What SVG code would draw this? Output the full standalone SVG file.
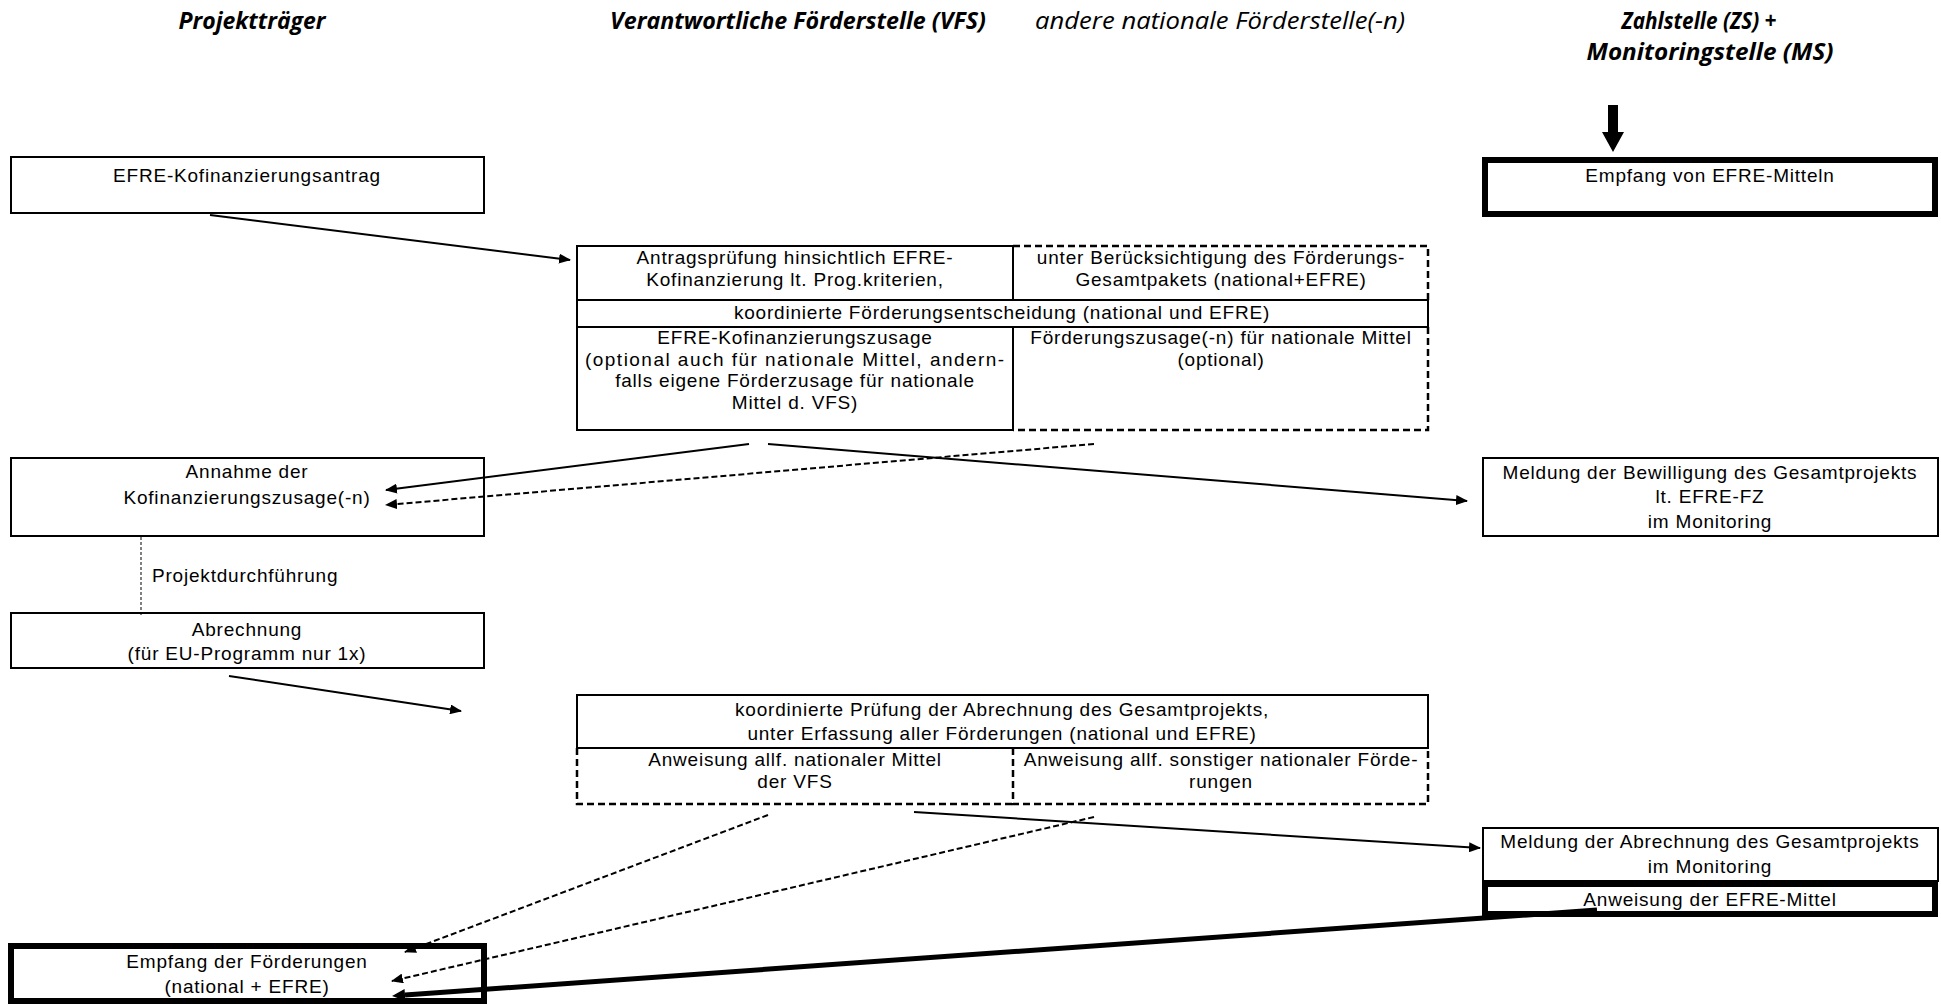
<svg xmlns="http://www.w3.org/2000/svg" width="1941" height="1004" viewBox="0 0 1941 1004">
<defs>
<style>
.title{font-family:"Open Sans","Liberation Sans",sans-serif;font-size:23px;font-style:italic;font-weight:bold;fill:#000;text-anchor:middle}
.title2{font-family:"Open Sans","Liberation Sans",sans-serif;font-size:23px;font-style:italic;fill:#000;text-anchor:middle}
.t{font-family:"Liberation Sans",Arial,sans-serif;font-size:19px;letter-spacing:0.8px;fill:#000;text-anchor:middle}
.tl{font-family:"Liberation Sans",Arial,sans-serif;font-size:19px;letter-spacing:0.8px;fill:#000}
.box{fill:#fff;stroke:#000;stroke-width:2}
.thick{fill:#fff;stroke:#000;stroke-width:6}
.dash{fill:none;stroke:#000;stroke-width:2.5;stroke-dasharray:7 4}
.c{fill:none;stroke:#000;stroke-width:2;marker-end:url(#ah)}
.cd{fill:none;stroke:#000;stroke-width:2;stroke-dasharray:6 3;marker-end:url(#ah)}
.ct{fill:none;stroke:#000;stroke-width:5;marker-end:url(#ahb)}
</style>
<marker id="ah" markerUnits="userSpaceOnUse" markerWidth="12" markerHeight="10" refX="11" refY="5" orient="auto">
<path d="M0,0 L12,5 L0,10 Z" fill="#000"/>
</marker>
<marker id="ahb" markerUnits="userSpaceOnUse" markerWidth="13" markerHeight="12" refX="0" refY="6" orient="auto">
<path d="M0,0 L13,6 L0,12 Z" fill="#000"/>
</marker>
</defs>
<rect width="1941" height="1004" fill="#fff"/>

<g id="titles">
<text class="title" x="252" y="29" textLength="147" lengthAdjust="spacingAndGlyphs">Projektträger</text>
<text class="title" x="798" y="29" textLength="376" lengthAdjust="spacingAndGlyphs">Verantwortliche Förderstelle (VFS)</text>
<text class="title2" x="1220" y="29" textLength="370" lengthAdjust="spacingAndGlyphs">andere nationale Förderstelle(-n)</text>
<text class="title" x="1699" y="29" textLength="155" lengthAdjust="spacingAndGlyphs">Zahlstelle (ZS) +</text>
<text class="title" x="1710" y="60" textLength="247" lengthAdjust="spacingAndGlyphs">Monitoringstelle (MS)</text>
</g>

<g id="antrag">
<rect class="box" x="11" y="157" width="473" height="56"/>
<text class="t" x="247" y="182">EFRE-Kofinanzierungsantrag</text>
</g>

<g id="empfang-efre">
<rect class="thick" x="1485" y="160" width="450" height="54"/>
<text class="t" x="1710" y="182">Empfang von EFRE-Mitteln</text>
</g>

<g id="vfs-pruefung">
<rect class="box" x="577" y="246" width="436" height="54"/>
<text class="t" x="795" y="264">Antragsprüfung hinsichtlich EFRE-</text>
<text class="t" x="795" y="285.5">Kofinanzierung lt. Prog.kriterien,</text>
</g>

<g id="andere-beruecksichtigung">
<path class="dash" d="M1013,246 H1428 V300"/>
<text class="t" x="1221" y="264">unter Berücksichtigung des Förderungs-</text>
<text class="t" x="1221" y="285.5">Gesamtpakets (national+EFRE)</text>
</g>

<g id="entscheidung">
<rect class="box" x="577" y="300" width="851" height="27"/>
<text class="t" x="1002" y="319">koordinierte Förderungsentscheidung (national und EFRE)</text>
</g>

<g id="vfs-zusage">
<rect class="box" x="577" y="327" width="436" height="103"/>
<text class="t" x="795" y="344">EFRE-Kofinanzierungszusage</text>
<text class="t" x="795" y="365.5" textLength="420" lengthAdjust="spacing">(optional auch für nationale Mittel, andern-</text>
<text class="t" x="795" y="387">falls eigene Förderzusage für nationale</text>
<text class="t" x="795" y="408.5">Mittel d. VFS)</text>
</g>

<g id="andere-zusage">
<path class="dash" d="M1428,327 V430 H1013"/>
<text class="t" x="1221" y="344">Förderungszusage(-n) für nationale Mittel</text>
<text class="t" x="1221" y="365.5">(optional)</text>
</g>

<g id="annahme">
<rect class="box" x="11" y="458" width="473" height="78"/>
<text class="t" x="247" y="478">Annahme der</text>
<text class="t" x="247" y="504">Kofinanzierungszusage(-n)</text>
</g>

<g id="meldung-bewilligung">
<rect class="box" x="1483" y="458" width="455" height="78"/>
<text class="t" x="1710" y="479">Meldung der Bewilligung des Gesamtprojekts</text>
<text class="t" x="1710" y="503">lt. EFRE-FZ</text>
<text class="t" x="1710" y="528">im Monitoring</text>
</g>

<g id="projektdurchfuehrung">
<text class="tl" x="152" y="582">Projektdurchführung</text>
</g>

<g id="abrechnung">
<rect class="box" x="11" y="613" width="473" height="55"/>
<text class="t" x="247" y="636">Abrechnung</text>
<text class="t" x="247" y="660">(für EU-Programm nur 1x)</text>
</g>

<g id="pruefung-abrechnung">
<rect class="box" x="577" y="695" width="851" height="53"/>
<text class="t" x="1002" y="716">koordinierte Prüfung der Abrechnung des Gesamtprojekts,</text>
<text class="t" x="1002" y="740">unter Erfassung aller Förderungen (national und EFRE)</text>
</g>

<g id="anweisung-vfs">
<path class="dash" d="M577,748 V804 H1013"/>
<text class="t" x="795" y="766">Anweisung allf. nationaler Mittel</text>
<text class="t" x="795" y="788">der VFS</text>
</g>

<g id="anweisung-sonstige">
<path class="dash" d="M1013,748 V804 H1428 V748"/>
<text class="t" x="1221" y="766">Anweisung allf. sonstiger nationaler Förde-</text>
<text class="t" x="1221" y="788">rungen</text>
</g>

<g id="meldung-abrechnung">
<rect class="box" x="1483" y="828" width="455" height="53"/>
<text class="t" x="1710" y="848">Meldung der Abrechnung des Gesamtprojekts</text>
<text class="t" x="1710" y="873">im Monitoring</text>
</g>

<g id="anweisung-efre">
<rect class="thick" x="1485" y="884" width="450" height="30"/>
<text class="t" x="1710" y="906">Anweisung der EFRE-Mittel</text>
</g>

<g id="empfang-foerderungen">
<rect class="thick" x="11" y="946" width="473" height="55"/>
<text class="t" x="247" y="968">Empfang der Förderungen</text>
<text class="t" x="247" y="993">(national + EFRE)</text>
</g>

<g id="connectors">
<polygon points="1608,105 1618,105 1618,132 1624,132 1613,152 1602,132 1608,132" fill="#000"/>
<line class="c" x1="210" y1="215" x2="570" y2="260"/>
<line class="c" x1="749" y1="444" x2="386" y2="490"/>
<line class="cd" x1="1094" y1="444" x2="386" y2="505"/>
<line class="c" x1="768" y1="444" x2="1467" y2="501"/>
<line fill="none" stroke="#000" stroke-width="1" stroke-dasharray="3 2" x1="141" y1="537" x2="141" y2="615"/>
<line class="c" x1="229" y1="676" x2="461" y2="711"/>
<line class="cd" x1="768" y1="815" x2="405" y2="952"/>
<line class="cd" x1="1094" y1="817" x2="392" y2="981"/>
<line class="c" x1="914" y1="812" x2="1480" y2="848"/>
<line class="ct" x1="1597" y1="910" x2="405" y2="995"/>
</g>
</svg>
